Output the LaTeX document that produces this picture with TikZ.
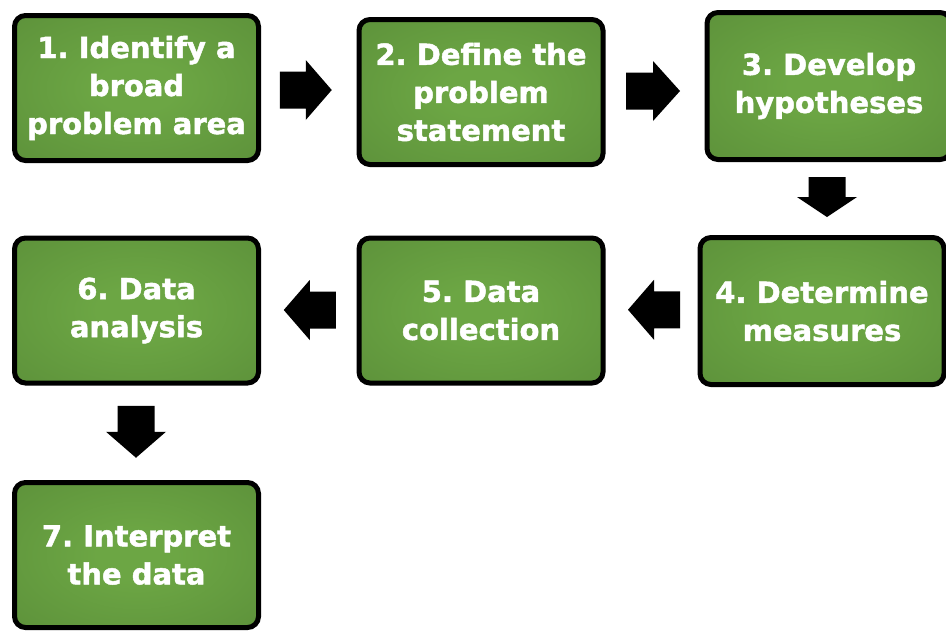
\documentclass[tikz,border=0pt]{standalone}
\usepackage{fontspec}
\setmainfont{DejaVu Sans}
\newfontfamily\stepfont{DejaVu Sans Bold}[FakeBold=1.6]
\usetikzlibrary{calc}

\definecolor{boxlight}{RGB}{108,166,68}
\definecolor{boxmid}{RGB}{86,136,54}
\definecolor{boxdark}{RGB}{70,112,42}
\pgfdeclareradialshading{boxglow}{\pgfpoint{0bp}{0bp}}{%
  color(0bp)=(boxlight); color(8bp)=(boxlight); color(50bp)=(boxmid); color(71bp)=(boxdark)}

\tikzset{
  stepbox/.style={draw=black, line width=5pt, rounded corners=11pt,
    shading=boxglow, minimum width=244pt, minimum height=145pt,
    inner sep=0pt, align=center, text=white,
    font=\stepfont\frenchspacing\fontsize{29}{38}\selectfont},
  arrowfill/.style={fill=black, draw=none}
}

% block arrow: centre, direction angle, total length
\newcommand\blockarrow[3]{%
  \fill[arrowfill, shift={(#1)}, rotate=#2]
    (-#3/2,-18.5) -- (0,-18.5) -- (0,-30) -- (#3/2,0) -- (0,30) -- (0,18.5) -- (-#3/2,18.5) -- cycle;}

\begin{document}
\begin{tikzpicture}[x=1pt, y=-1pt]
  \useasboundingbox (0,0) rectangle (946,630);
  \clip (0,0) rectangle (946,630);

  % process steps
  \node[stepbox] (b1) at (136.5,88)  {1. Identify a\\broad\\problem area};
  \node[stepbox] (b2) at (481,92)    {2. Define the\\problem\\statement};
  \node[stepbox, minimum height=147pt] (b3) at (829,86) {3. Develop\\hypotheses};
  \node[stepbox, minimum height=147pt] (b4) at (822,311) {4. Determine\\measures};
  \node[stepbox] (b5) at (481,310.5) {5. Data\\collection};
  \node[stepbox] (b6) at (136.5,310.5) {6. Data\\analysis};
  \node[stepbox] (b7) at (136.5,555) {7. Interpret\\the data};

  % arrow anchors between consecutive steps
  \coordinate (a12) at ($(b1.east)!0.5!(b2.west)+(-3,0)$);
  \coordinate (a23) at ($(b2.east)!0.5!(b3.west)+(-2,2)$);
  \coordinate (a34) at ($(b3.south)!0.5!(b4.north)+(1.5,-1.5)$);
  \coordinate (a45) at ($(b5.east)!0.5!(b4.west)+(2.5,-1)$);
  \coordinate (a56) at ($(b6.east)!0.5!(b5.west)+(1,-0.5)$);
  \coordinate (a67) at ($(b6.south)!0.5!(b7.north)+(-0.5,-1)$);

  \blockarrow{a12}{0}{52}
  \blockarrow{a23}{0}{54}
  \blockarrow{a34}{-90}{40}
  \blockarrow{a45}{180}{52}
  \blockarrow{a56}{180}{52}
  \blockarrow{a67}{-90}{52}
\end{tikzpicture}
\end{document}
